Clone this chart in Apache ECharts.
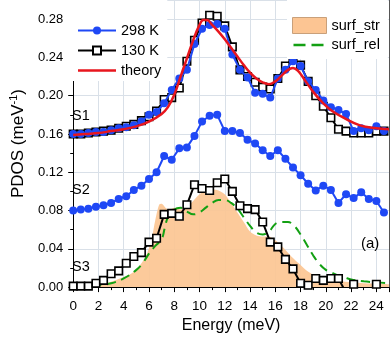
<!DOCTYPE html>
<html><head><meta charset="utf-8">
<script src="https://cdn.jsdelivr.net/npm/echarts@6/dist/echarts.min.js"></script>
<style>html,body{margin:0;padding:0;background:#fff}#c{width:391px;height:339px}</style>
</head><body><div id="c"></div>
<script>
// Energy grid of measured points (meV)
const energy = [0,0.6,1.2,1.8,2.4,3.0,3.6,4.2,4.8,5.4,6.0,6.6,7.2,7.8,8.4,9.0,9.6,10.2,10.8,11.4,12.0,12.6,13.2,13.8,14.4,15.0,15.6,16.2,16.8,17.4,18.0,18.6,19.2,19.8,20.4,21.0,21.6,22.2,22.8,23.4,24.0,24.6];
// S1 at 298 K (blue circles)
const s1_298 = [0.160,0.160,0.161,0.162,0.162,0.164,0.166,0.167,0.169,0.173,0.180,0.183,0.192,0.206,0.218,0.227,0.254,0.270,0.274,0.275,0.270,0.243,0.227,0.219,0.203,0.202,0.198,0.218,0.227,0.236,0.231,0.215,0.206,0.195,0.188,0.185,0.181,0.163,0.166,0.164,0.168,0.163];
// S1 at 130 K (open squares)
const s1_130 = [0.160,0.160,0.161,0.162,0.163,0.164,0.166,0.168,0.170,0.174,0.178,0.184,0.196,0.198,0.208,0.236,0.258,0.276,0.284,0.283,0.273,0.251,0.227,0.220,0.214,0.209,0.207,0.218,0.231,0.239,0.232,0.215,0.200,0.189,0.177,0.165,0.163,0.161,0.161,0.161,0.163,0.163];
// S2 (blue circles)
const s2 = [0.080,0.081,0.082,0.084,0.0855,0.088,0.092,0.095,0.1015,0.106,0.113,0.120,0.137,0.133,0.145,0.146,0.158,0.173,0.179,0.180,0.163,0.163,0.161,0.154,0.150,0.143,0.137,0.143,0.134,0.125,0.117,0.108,0.101,0.106,0.1015,0.088,0.097,0.093,0.099,0.092,0.090,0.078];
// S3 (open squares)
const s3 = [0.001,0.001,0.001,0.004,0.007,0.014,0.017,0.025,0.032,0.036,0.047,0.051,0.076,0.077,0.074,0.086,0.107,0.103,0.101,0.109,0.113,0.100,0.085,0.082,0.081,0.068,0.047,0.042,0.029,0.019,0.004,0.002,0.009,0.007,0.009,0.009,-0.006,0.003,-0.006,-0.006,0.003,-0.006];
// theory curve for S1
const theoryE = [0,1,2,3,4,5,6,7,7.5,8,8.5,9,9.5,10,10.3,10.6,11,11.5,12,12.5,13,13.5,14,14.5,15,15.5,16,16.5,17,17.4,17.8,18.3,19,19.8,20.5,21.4,22.7,24,25];
const theoryV = [0.159,0.160,0.161,0.163,0.165,0.168,0.173,0.181,0.188,0.201,0.220,0.239,0.258,0.274,0.279,0.279,0.274,0.267,0.259,0.250,0.241,0.232,0.224,0.218,0.214,0.212,0.215,0.221,0.227,0.229,0.226,0.217,0.204,0.192,0.184,0.177,0.169,0.166,0.165];
// surf_str (filled) and surf_rel (dashed)
const surfStrE = [1.5,2,2.6,3.5,4.7,5.7,6.2,6.5,6.8,7.0,7.3,7.6,8.0,8.5,9.0,9.5,10.0,10.5,11.0,11.5,12.0,12.5,13.0,13.5,14.0,14.5,15.0,15.5,16.0,16.5,17.0,17.5,18.0,18.5,19.0,19.5,20.0,20.5,21.0,22.0,23.0,25.0];
const surfStrV = [0,0.001,0.004,0.008,0.015,0.031,0.050,0.070,0.086,0.087,0.083,0.081,0.083,0.081,0.084,0.090,0.097,0.101,0.102,0.101,0.097,0.088,0.078,0.068,0.058,0.054,0.053,0.053,0.049,0.043,0.036,0.029,0.023,0.017,0.013,0.011,0.011,0.010,0.007,0.005,0.004,0.003];
const surfRelE = [1.5,2,3,4,5,5.5,6,6.5,7,7.25,7.5,8,8.5,9,9.5,10,10.5,11,11.5,12,12.5,13,13.5,14,14.5,15,15.5,16,16.5,17,17.5,18,18.5,19,19.5,20,20.5,21,21.5,22,23,24,25];
const surfRelV = [0.001,0.002,0.004,0.009,0.018,0.025,0.035,0.043,0.050,0.062,0.073,0.081,0.083,0.079,0.076,0.078,0.083,0.088,0.091,0.091,0.088,0.082,0.073,0.064,0.057,0.055,0.058,0.066,0.068,0.068,0.064,0.055,0.044,0.033,0.024,0.018,0.015,0.012,0.010,0.008,0.006,0.005,0.004];
const xTicks = [0,2,4,6,8,10,12,14,16,18,20,22,24];

const pair = (xs, ys) => xs.map((x, i) => [x, ys[i]]);
const FONT = 'Liberation Sans, Arial, sans-serif';
const BLUE = '#1f48f5', RED = '#e8161e', GREEN = '#13a013', ORANGE = '#fcc593';
const chart = echarts.init(document.getElementById('c'), null, {renderer: 'canvas'});
const gridColor = '#d9e0e8';
// legend icons: a solid line (theory) and a two-dash line (surf_rel); bounding boxes match the legend item box
const lineIcon = 'path://M0 0h.01v.01h-.01zM0 3.75h38v2.5h-38zM37.99 9.99h.01v.01h-.01z';
const dashIcon = 'path://M0 0h.01v.01h-.01zM1 6.75h12v2.5h-12zM19 6.75h12v2.5h-12zM33.99 15.99h.01v.01h-.01z';
chart.setOption({
  animation: false,
  backgroundColor: '#fff',
  grid: {left: 66, right: 2, top: 0, bottom: 47},
  legend: [{
    data: [{name: '298 K'}, {name: '130 K'}, {name: 'theory', icon: lineIcon, itemStyle: {color: RED, borderWidth: 0}}],
    left: 66, top: 0, orient: 'vertical',
    padding: [23, 6, 3, 11],
    itemWidth: 38, itemHeight: 10, itemGap: 5,
    backgroundColor: '#fff',
    textStyle: {fontFamily: FONT, fontSize: 14.5, color: '#000', lineHeight: 14},
    z: 10
  }, {
    data: [{name: 'surf_str', icon: 'rect', itemStyle: {color: ORANGE, borderColor: '#c9a07a', borderWidth: 1}},
           {name: 'surf_rel', icon: dashIcon, itemStyle: {color: GREEN, borderWidth: 0}}],
    left: 287, top: 0, orient: 'vertical',
    padding: [17, 8, 6, 5],
    itemWidth: 34, itemHeight: 16, itemGap: 3,
    backgroundColor: '#fff',
    textStyle: {fontFamily: FONT, fontSize: 14.5, color: '#000', lineHeight: 16},
    z: 10
  }],
  xAxis: {
    type: 'value', min: 0, max: 25, interval: 2,
    name: 'Energy (meV)', nameLocation: 'middle', nameGap: 28,
    nameTextStyle: {fontFamily: FONT, fontSize: 16, color: '#000'},
    axisLine: {show: true, onZero: false, lineStyle: {color: '#000', width: 1}},
    axisTick: {show: true, length: 5, lineStyle: {color: '#000'}},
    minorTick: {show: true, splitNumber: 2, length: 3, lineStyle: {color: '#000'}},
    axisLabel: {fontFamily: FONT, fontSize: 13.5, color: '#000', margin: 12, showMaxLabel: false,
      formatter: v => xTicks.includes(v) ? String(v) : ''},
    splitLine: {show: true, lineStyle: {color: gridColor, width: 1}}
  },
  yAxis: [{
    type: 'value', min: 0, max: 0.30, interval: 0.04,
    name: '{a|PDOS (meV}{s|-1}{a|)}', nameLocation: 'middle', nameGap: 42, nameRotate: 90,
    nameTextStyle: {fontFamily: FONT, fontSize: 17, color: '#000',
      rich: {a: {fontFamily: FONT, fontSize: 17, color: '#000'}, s: {fontFamily: FONT, fontSize: 11, color: '#000', padding: [0, 0, 10, 0]}}},
    axisLine: {show: true, lineStyle: {color: '#000', width: 1}},
    axisTick: {show: true, length: 5, lineStyle: {color: '#000'}},
    minorTick: {show: true, splitNumber: 2, length: 3, lineStyle: {color: '#000'}},
    axisLabel: {fontFamily: FONT, fontSize: 13, color: '#000', margin: 10, showMaxLabel: false,
      formatter: v => v.toFixed(2)},
    splitLine: {show: true, lineStyle: {color: gridColor, width: 1}}
  }, {
    type: 'value', min: 0, max: 0.30, position: 'right',
    axisLine: {show: true, lineStyle: {color: '#555', width: 1}},
    axisTick: {show: false}, axisLabel: {show: false}, splitLine: {show: false}
  }],
  series: [
    {name: 'surf_str', type: 'line', data: pair(surfStrE, surfStrV), smooth: 0.3, symbol: 'none',
      lineStyle: {width: 0, color: ORANGE}, itemStyle: {color: ORANGE}, areaStyle: {color: ORANGE, opacity: 0.92}, z: 1},
    {name: 'surf_rel', type: 'line', data: pair(surfRelE, surfRelV), smooth: 0.4, symbol: 'none',
      lineStyle: {width: 2, color: GREEN, type: [9, 6]}, itemStyle: {color: GREEN}, z: 2},
    {name: 'S3', type: 'line', data: pair(energy, s3), symbol: 'rect', symbolSize: 7.5,
      lineStyle: {width: 2, color: '#000'}, itemStyle: {color: '#fff', borderColor: '#000', borderWidth: 1.6}, z: 3},
    {name: 'S2', type: 'line', data: pair(energy, s2), symbol: 'circle', symbolSize: 8,
      lineStyle: {width: 2, color: BLUE}, itemStyle: {color: BLUE}, z: 4},
    {name: '130 K', type: 'line', data: pair(energy, s1_130), symbol: 'rect', symbolSize: 7.5,
      lineStyle: {width: 2, color: '#000'}, itemStyle: {color: '#fff', borderColor: '#000', borderWidth: 1.6}, z: 5},
    {name: '298 K', type: 'line', data: pair(energy, s1_298), symbol: 'circle', symbolSize: 8,
      lineStyle: {width: 2, color: BLUE}, itemStyle: {color: BLUE}, z: 6},
    {name: 'theory', type: 'line', data: pair(theoryE, theoryV), smooth: 0.4, symbol: 'none',
      lineStyle: {width: 2.5, color: RED}, itemStyle: {color: RED}, z: 7}
  ],
  graphic: [
    {type: 'text', left: 72, top: 108, z: 20, style: {text: 'S1', font: '14.5px ' + FONT, fill: '#000'}},
    {type: 'text', left: 72, top: 182, z: 20, style: {text: 'S2', font: '14.5px ' + FONT, fill: '#000'}},
    {type: 'text', left: 72, top: 259, z: 20, style: {text: 'S3', font: '14.5px ' + FONT, fill: '#000'}},
    {type: 'text', left: 361, top: 236, z: 20, style: {text: '(a)', font: '15px ' + FONT, fill: '#000'}}
  ]
});
</script></body></html>
